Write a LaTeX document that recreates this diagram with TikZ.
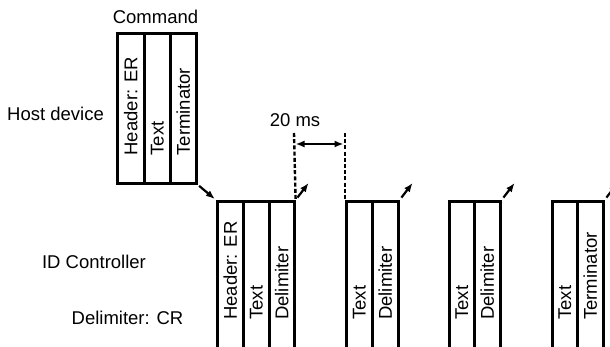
\documentclass[tikz,border=0pt]{standalone}
\usepackage{fontspec}
\setmainfont{Liberation Sans}
\usetikzlibrary{arrows.meta,positioning,calc}
\tikzset{
  cell/.style={draw=black,line width=2.6pt,anchor=north west,inner sep=0pt,minimum width=#1},
  cmdcell/.style={cell=#1,minimum height=150},
  idcell/.style={cell=#1,minimum height=165},
  celltext/.style={rotate=90,anchor=west,inner sep=0pt},
  lbl/.style={inner sep=0pt},
  ptr/.style={-{Latex[length=9pt,width=7pt]},line width=2.2pt},
  gapline/.style={line width=2.4pt,dash pattern=on 4pt off 2.2pt},
  dimarrow/.style={{Latex[length=9pt,width=7pt]}-{Latex[length=9pt,width=7pt]},line width=2.2pt}
}

\begin{document}
\begin{tikzpicture}[x=1pt,y=-1pt,font=\fontsize{18.5}{21}\selectfont]
\clip (0,0) rectangle (610,347);
% host side
\node[lbl] (cmdlbl) at (155.5,17) {Command};
\node[lbl] (host) at (55.5,114) {Host device};
\foreach \x/\w/\name/\txt in {116/27/hd/Header: ER,143/26/tx/Text,169/26/tm/Terminator}{
  \node[cmdcell=\w] (cmd\name) at (\x,32) {};
  \node[celltext] at ($(cmd\name.south)+(0,-29)$) {\txt};
}
% controller side
\node[lbl] (idc) at (94,262) {ID Controller};
\node[lbl] (delim) at (127.5,318) {Delimiter: CR};
\foreach \x/\w/\name/\txt in {216/26/a1/Header: ER,242/26/a2/Text,268/25/a3/Delimiter,345/26/b1/Text,371/26/b2/Delimiter,448/25/c1/Text,473/26/c2/Delimiter,551/25/d1/Text,576/26/d2/Terminator}{
  \node[idcell=\w] (id\name) at (\x,200) {};
  \node[celltext] at ($(id\name.north)+(0,120)$) {\txt};
}
\draw[ptr,shorten <=2pt,shorten >=1.5pt] (cmdtm.south east) -- (ida1.north west);
\foreach \last in {a3,b2,c2,d2}
  \draw[ptr,shorten <=3pt] (id\last.north east) -- ++(13,-17);
% 20 ms gap
\coordinate (gapL) at (294,133);
\coordinate (gapR) at (345,133);
\draw[gapline] (gapL) -- (ida3.north east);
\draw[gapline] (gapR) -- (idb1.north west);
\draw[dimarrow,shorten <=1.5pt,shorten >=1.5pt] ($(gapL)+(0,11)$) -- ($(gapR)+(0,11)$);
\node[lbl] (gaplbl) at (295,120) {20 ms};
\end{tikzpicture}
\end{document}
